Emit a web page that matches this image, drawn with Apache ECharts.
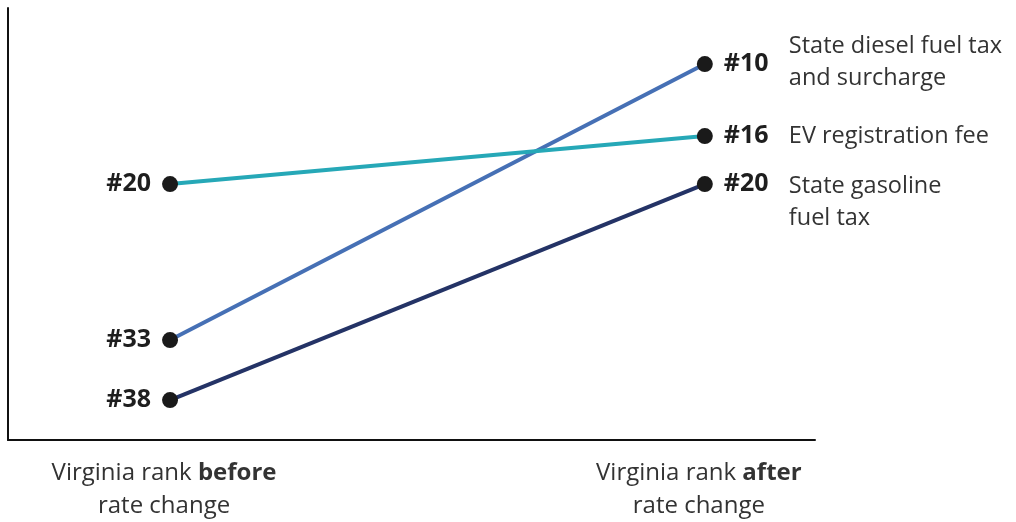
<!DOCTYPE html>
<html>
<head>
<meta charset="utf-8">
<script src="https://cdn.jsdelivr.net/npm/echarts@6/dist/echarts.min.js"></script>
<style>
  html, body { margin: 0; padding: 0; background: #fff; }
  #main { width: 1016px; height: 522px; }
</style>
</head>
<body>
<div id="main"></div>
<script>
// slope chart data
var periods = ['before', 'after'];
var seriesNames = ['EV registration fee', 'State diesel fuel tax\nand surcharge', 'State gasoline\nfuel tax'];
var rankBefore = [20, 33, 38];
var rankAfter = [16, 10, 20];
var colors = ['#26a8b7', '#4670b5', '#243366'];
var nameOffsetY = [0, -2, 18];

var myChart = echarts.init(document.getElementById('main'));

var font = '"Open Sans", "Noto Sans", sans-serif';

var series = seriesNames.map(function (name, i) {
    return {
        name: name,
        type: 'line',
        symbol: 'circle',
        symbolSize: 16,
        itemStyle: { color: '#1a1a1a' },
        lineStyle: { color: colors[i], width: 4 },
        z: 3 - i,
        label: {
            show: true,
            fontFamily: font,
            fontWeight: 'bold',
            fontSize: 25,
            color: '#1e1e1e',
            distance: 11,
            formatter: function (p) { return '#' + p.value[1]; }
        },
        endLabel: {
            show: true,
            fontFamily: font,
            fontSize: 23.5,
            color: '#333',
            lineHeight: 32,
            distance: 84,
            offset: [0, nameOffsetY[i]],
            formatter: function (p) { return p.seriesName; }
        },
        data: [
            { value: [0, rankBefore[i]], label: { position: 'left' } },
            { value: [1, rankAfter[i]], label: { position: 'right' } }
        ]
    };
});

var option = {
    animation: false,
    grid: { left: 8, right: 201, top: 8, bottom: 82, outerBoundsMode: 'none' },
    xAxis: {
        type: 'value',
        min: -0.303,
        max: 1.206,
        axisLine: { show: true, lineStyle: { color: '#111', width: 2 } },
        axisTick: { show: false },
        splitLine: { show: false },
        axisLabel: {
            customValues: [0, 1],
            margin: 17,
            padding: [0, 12, 0, 0],
            fontFamily: font,
            fontSize: 24,
            color: '#333',
            lineHeight: 33,
            formatter: function (v) {
                var w = v === 0 ? periods[0] : periods[1];
                return '{n|Virginia rank }{b|' + w + '}\n{n|rate change}';
            },
            rich: {
                n: { fontFamily: font, fontSize: 24, color: '#333', lineHeight: 33 },
                b: { fontFamily: font, fontSize: 24, color: '#333', fontWeight: 'bold', lineHeight: 33 }
            }
        }
    },
    yAxis: {
        type: 'value',
        inverse: true,
        min: 5.33,
        max: 41.33,
        axisLine: { show: true, onZero: false, lineStyle: { color: '#111', width: 2 } },
        axisTick: { show: false },
        axisLabel: { show: false },
        splitLine: { show: false }
    },
    series: series
};

myChart.setOption(option);
</script>
</body>
</html>
